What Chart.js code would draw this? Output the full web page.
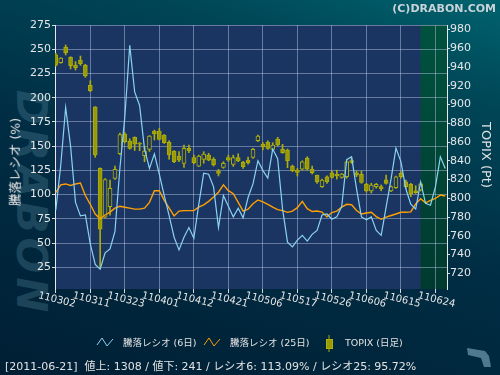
<!DOCTYPE html>
<html>
<head>
<meta charset="utf-8">
<script src="https://cdn.jsdelivr.net/npm/chart.js@4.4.1/dist/chart.umd.min.js"></script>
<style>
  html, body { margin: 0; padding: 0; background: #001e33; }
  #wrap {
    position: relative; width: 500px; height: 375px; overflow: hidden;
    background: linear-gradient(198deg, #00636e 0%, #004657 20%, #002d44 52%, #001f34 100%);
    font-family: "DejaVu Sans", "Noto Sans CJK JP", sans-serif; color: #e2e2e2;
  }
  #chart { position: absolute; left: 0; top: 0; z-index: 1; }
  .abs { position: absolute; white-space: pre; z-index: 2; line-height: 1; }
  #wm {
    position: absolute; left: 31px; top: 203px; z-index: 0;
    transform: translate(-50%, -50%) rotate(90deg);
    font: italic bold 42px "DejaVu Sans", sans-serif; letter-spacing: 4px;
    color: rgba(100, 150, 170, 0.28); white-space: nowrap;
  }
  #copy { right: 4px; top: 2px; font: bold 11px "DejaVu Sans", sans-serif; color: #c9d3d9; }
  #ytitle { left: 16px; top: 162px; transform: translate(-50%, -50%) rotate(-90deg); font-size: 12.5px; }
  #y2title { left: 486px; top: 155px; transform: translate(-50%, -50%) rotate(90deg); font-size: 13px; }
  .lg { top: 338px; font-size: 9.5px; }
  #status { left: 5px; top: 361px; font-size: 11px; }
  svg { position: absolute; left: 0; top: 0; z-index: 2; }
</style>
</head>
<body>
<div id="wrap">
  <div id="wm">DRABON</div>
  <canvas id="chart" width="500" height="375"></canvas>
  <div class="abs" id="copy">(C)DRABON.COM</div>
  <div class="abs" id="ytitle">騰落レシオ (%)</div>
  <div class="abs" id="y2title">TOPIX (Pt)</div>
  <svg width="500" height="375">
    <polyline points="97,345 102,338 107,346 113,339" fill="none" stroke="#8ad2f2" stroke-width="1"/>
    <polyline points="204,345 209,338 214,346 220,339" fill="none" stroke="#ffa000" stroke-width="1"/>
    <line x1="329" y1="335" x2="329" y2="352" stroke="#a8a800" stroke-width="1"/>
    <rect x="326.5" y="339.5" width="6" height="9" fill="#999900" stroke="#b0b010" stroke-width="1"/>
    <path d="M467,348 L485,351 L489,356 L491,367 L484,367 L481,358 L468,355 Z" fill="#4f7a8e"/>
  </svg>
  <div class="abs lg" style="left:123px">騰落レシオ (6日)</div>
  <div class="abs lg" style="left:230px">騰落レシオ (25日)</div>
  <div class="abs lg" style="left:345px">TOPIX (日足)</div>
  <div class="abs" id="status">[2011-06-21]  値上: 1308 / 値下: 241 / レシオ6: 113.09% / レシオ25: 95.72%</div>
</div>
<script>
  // x tick labels (every 7 trading days)
  const tickLabels = ['110302','110311','110323','110401','110412','110421','110506','110517','110526','110606','110615','110624'];
  const tickIdx = [0,7,14,21,28,35,42,49,56,63,70,77];

  // 騰落レシオ 6日 (%)
  const ratio6 = [84,130,190,150,92,78,79,49,28,23,
    40,44,62,127,180,254,206,192,147,127,
    142,121,99,78,56,43,56,66,55,90,
    122,121,108,66,99,88,77,86,76,97,
    111,135,125,117,147,137,85,51,46,53,
    58,52,59,63,79,80,74.6,77,88,136,
    139,106,77,74,77,63,58,87,116,148,
    134,106,90,85,113.09,91,89,108,139,127];

  // 騰落レシオ 25日 (%)
  const ratio25 = [102,110,111,109.5,111,112,99,90,80,75,
    79,82,86,88,87,86,85,85,86,92,
    104,104,94,86,78,83,83.5,83.5,83.5,87,
    89.5,93,97.5,102.5,110,104,101,92,83,85,
    90.5,94.5,92.5,90,87,84.5,83.5,81.7,83,86.5,
    93,85.5,82.5,83,82,77,81.5,83,87,90,
    89.5,83.6,80,81,81.8,77.3,74.5,76.7,78.4,80,
    81.8,81.8,82.2,90.5,95.72,91.5,94,96,99.5,98.5];

  // TOPIX daily (Pt)
  const open  = [953,944.6,961,950.4,942,947.5,941.8,920.5,897.5,832,
    780,791,821.3,847.5,868.6,861,865,859,845.4,852.2,
    871.8,871.8,867.5,859.7,850.4,845.1,837.3,853.3,843.3,834.4,
    841.6,846.2,841.6,829.4,833,843.3,836.2,843.3,838.4,840.8,
    843.7,861.4,857.6,859.7,852.2,863.2,852.6,851.5,834.4,830.2,
    831.2,842.6,831.2,824.8,812.4,823,827.3,825.9,822.4,823,
    840.1,827.3,825.6,815.2,807.8,812.4,812.4,819.8,807.8,811.3,
    826.6,817.7,815,808,808.9];
  const high  = [954.5,950,963.5,951,945.7,951.7,942.9,925.4,897.7,832.5,
    821,819.5,834.4,869.5,870,863.5,865.5,859.5,855,867,
    872.8,874.6,868,861.4,850.8,849.7,856.8,856.8,846.2,846,
    849.7,848,843.5,830.9,839,846,846,847.5,839.5,844,
    853.3,867.5,859.3,861.4,859.3,865,857.6,852.6,835.5,832,
    840,844.4,834.4,824.8,820.5,824,829.4,830,826.5,840,
    842.6,829.4,829,816,816,816,814.2,824.8,813.4,823.8,
    828.4,819.5,816,813.4,816.5];
  const low   = [941,944,952.8,938,936.8,941.8,929,913.7,843.7,725.5,
    779,782,820.2,846.5,859,852.3,851,850.8,839,850,
    862.2,862.2,858.5,841.6,838,839,833,848.7,836.6,833.7,
    837.3,840,834.4,823.8,832,839.5,834,839,832,836.5,
    842.6,860.4,851.5,852.2,851,855.8,848,832.6,828.4,823.8,
    830,830,826,816,811.5,816,821.4,820.5,821.5,821.4,
    837.3,823,816,806.5,805.7,810.8,808,815,807.2,810.5,
    821.4,810.8,801.8,805.2,807.8];
  const close = [942,949.5,955.3,941.4,939.3,943.5,930.7,914.7,846.2,767,
    820,810.7,830.9,868,860.4,853.3,857.6,857.6,850.4,866.4,
    868.6,862.9,859.3,846.2,839,840.8,853.3,850.8,838,845.1,
    847.2,840.8,835.5,826.6,837.3,840.8,843.3,839.8,833.7,838,
    852.2,866.4,855,853.3,856.8,856.8,848.7,840.1,829.4,827.7,
    839,831.2,827.3,817.7,819.5,817.7,822.4,823.8,825.9,839,
    838.4,824.8,817,808,814.2,815,810,816,812.4,823,
    823,812.4,804.6,806,815.5];

  const PLOT_BG = '#1b3562';
  const OLIVE = '#999900';
  const OLIVE_LINE = '#adad0c';
  const GRID = 'rgba(195,205,235,0.45)';
  const AXIS_TXT = '#e6e6e6';

  const backdrop = {
    id: 'backdrop',
    beforeDraw(chart) {
      const { ctx, chartArea: a, scales: { x } } = chart;
      ctx.save();
      ctx.fillStyle = PLOT_BG;
      ctx.fillRect(a.left, a.top, a.width, a.height);
      const gx = x.getPixelForValue(open.length - 1);
      const g = ctx.createLinearGradient(0, a.top, 0, a.bottom);
      g.addColorStop(0, '#00523f');
      g.addColorStop(1, '#003a2f');
      ctx.fillStyle = g;
      ctx.fillRect(gx, a.top, a.right - gx, a.height);
      ctx.restore();
    },
    afterDraw(chart) {
      const { ctx, chartArea: a, scales: { x } } = chart;
      ctx.save();
      ctx.fillStyle = AXIS_TXT;
      ctx.font = '10px "DejaVu Sans"';
      ctx.textAlign = 'center';
      ctx.textBaseline = 'middle';
      tickIdx.forEach((v, k) => {
        ctx.save();
        ctx.translate(x.getPixelForValue(v) + 1, a.bottom + 11);
        ctx.rotate(14 * Math.PI / 180);
        ctx.fillText(tickLabels[k], 0, 0);
        ctx.restore();
      });
      ctx.restore();
    }
  };

  const tickFont = { family: '"DejaVu Sans"', size: 11 };

  new Chart(document.getElementById('chart'), {
    type: 'line',
    data: {
      datasets: [
        { type: 'line', label: '騰落レシオ (6日)', yAxisID: 'y',
          data: ratio6.map((v, i) => ({ x: i, y: v })),
          borderColor: '#8ad2f2', borderWidth: 1.2, pointRadius: 0, tension: 0, order: 0 },
        { type: 'line', label: '騰落レシオ (25日)', yAxisID: 'y',
          data: ratio25.map((v, i) => ({ x: i, y: v })),
          borderColor: '#ffa000', borderWidth: 1.4, pointRadius: 0, tension: 0, order: 1 },
        { type: 'bar', label: 'TOPIX body', yAxisID: 'y2', grouped: false,
          data: open.map((o, i) => ({ x: i, y: [o, close[i]] })),
          backgroundColor: open.map((o, i) => close[i] < o ? OLIVE : PLOT_BG),
          borderColor: OLIVE_LINE, borderWidth: 1, borderSkipped: false,
          barThickness: 4, order: 2 },
        { type: 'bar', label: 'TOPIX wick', yAxisID: 'y2', grouped: false,
          data: low.map((l, i) => ({ x: i, y: [l, high[i]] })),
          backgroundColor: OLIVE_LINE, barThickness: 1, order: 3 }
      ]
    },
    options: {
      responsive: false,
      animation: false,
      events: [],
      layout: { padding: { top: 25, left: 0, right: 0, bottom: 0 } },
      plugins: { legend: { display: false }, tooltip: { enabled: false } },
      scales: {
        x: {
          type: 'linear', min: -0.16, max: 79.35, offset: false,
          afterBuildTicks: s => { s.ticks = tickIdx.map(v => ({ value: v })); },
          afterFit: s => { s.height = 86; },
          ticks: { display: false },
          grid: { color: GRID, tickColor: '#d8d8d8', tickLength: 4, offset: false },
          border: { display: false }
        },
        y: {
          position: 'left', min: 2.6, max: 275,
          afterBuildTicks: s => {
            const t = [];
            for (let v = 25; v <= 275; v += 25) t.push({ value: v });
            s.ticks = t;
          },
          afterFit: s => { s.width = 55; },
          ticks: { color: AXIS_TXT, font: tickFont, padding: 1 },
          grid: { color: GRID, tickColor: '#d8d8d8', tickLength: 3 },
          border: { color: '#e8e8f0', width: 1 }
        },
        y2: {
          position: 'right', min: 703.3, max: 984.8,
          afterBuildTicks: s => {
            const t = [];
            for (let v = 720; v <= 980; v += 20) t.push({ value: v });
            s.ticks = t;
          },
          afterFit: s => { s.width = 53; },
          ticks: { color: AXIS_TXT, font: tickFont, padding: 0 },
          grid: { drawOnChartArea: false, tickColor: '#d8d8d8', tickLength: 3 },
          border: { color: '#e8e8f0', width: 1 }
        }
      }
    },
    plugins: [backdrop]
  });
</script>
</body>
</html>
